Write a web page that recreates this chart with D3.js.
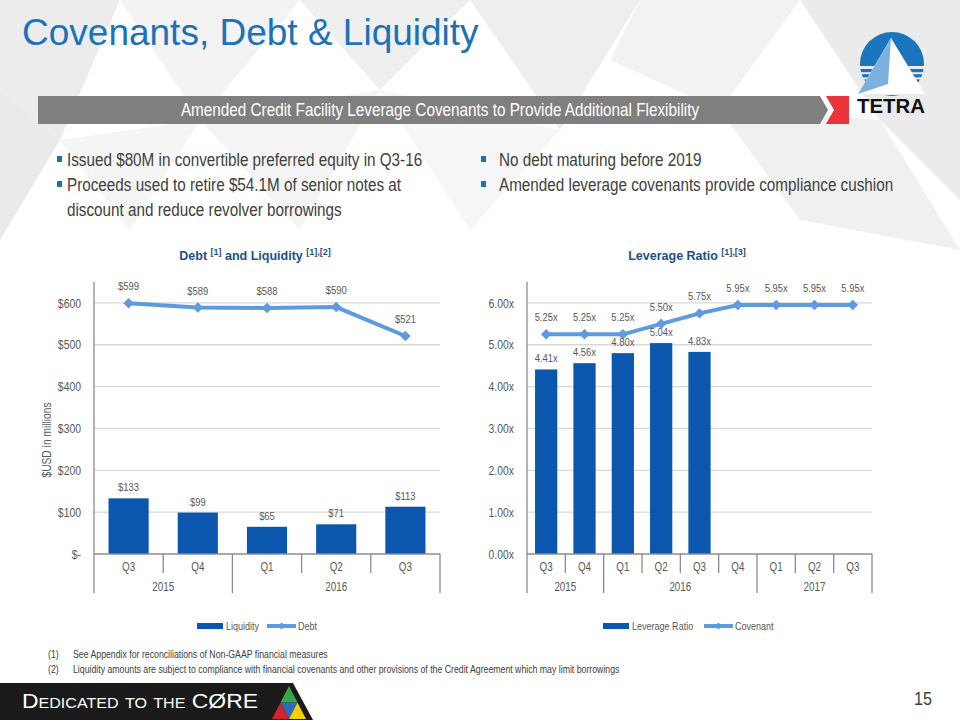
<!DOCTYPE html>
<html><head><meta charset="utf-8">
<script src="https://cdn.jsdelivr.net/npm/d3@7"></script>
<style>
html,body{margin:0;padding:0;background:#fff;}
svg{display:block;}
</style></head>
<body>
<svg id="c" width="960" height="720"></svg>
<script>
// ---------- DATA ----------
const debtQuarters = ["Q3","Q4","Q1","Q2","Q3"];
const debtYears = ["2015","2015","2016","2016","2016"];
const liquidity = [133, 99, 65, 71, 113];
const debt = [599, 589, 588, 590, 521];
const dollarTicks = [0,100,200,300,400,500,600];

const levQuarters = ["Q3","Q4","Q1","Q2","Q3","Q4","Q1","Q2","Q3"];
const levYears = ["2015","2015","2016","2016","2016","2016","2017","2017","2017"];
const leverage = [4.41, 4.56, 4.80, 5.04, 4.83];
const covenant = [5.25, 5.25, 5.25, 5.50, 5.75, 5.95, 5.95, 5.95, 5.95];
const ratioTicks = [0,1,2,3,4,5,6];

const bulletsLeft = [["Issued $80M in convertible preferred equity in Q3-16"],
  ["Proceeds used to retire $54.1M of senior notes at","discount and reduce revolver borrowings"]];
const bulletsRight = [["No debt maturing before 2019"],["Amended leverage covenants provide compliance cushion"]];
const footnotes = [["(1)","See Appendix for reconciliations of Non-GAAP financial measures"],
  ["(2)","Liquidity amounts are subject to compliance with financial covenants and other provisions of the Credit Agreement which may limit borrowings"]];

// ---------- STYLE ----------
const BAR = "#0b57ad", LINE = "#5c9be0", TXT = "#595959", GRID = "#d9d9d9", AX = "#8c8c8c";
const SANS = "'Liberation Sans',Arial,sans-serif";

const svg = d3.select("#c");

// condense a text horizontally about its anchor point
function narrow(sel, s){
  sel.each(function(){
    const t = d3.select(this);
    const x = +t.attr("x")||0, y = +t.attr("y")||0;
    t.attr("transform",`translate(${x},${y}) scale(${s},1) translate(${-x},${-y})`);
  });
}

// background low-poly
const bg = svg.append("g");
const polys = [
  [[0,0],[120,0],[60,140],[0,90]],
  [[120,0],[300,0],[200,120]],
  [[300,0],[470,0],[380,90]],
  [[60,140],[200,120],[130,230]],
  [[470,0],[640,0],[560,130]],
  [[640,0],[800,0],[720,110],[610,60]],
  [[800,0],[960,0],[960,200],[880,120]],
  [[380,90],[560,130],[470,230]],
  [[720,110],[880,120],[960,250],[800,220]],
  [[0,90],[60,140],[0,240]],
  [[200,120],[380,90],[300,230]]
];
const shades = ["#ececec","#f3f3f3","#efefef","#f5f5f5","#eeeeee","#f2f2f2","#ebebeb","#f6f6f6","#f0f0f0","#eaeaea","#f4f4f4"];
polys.forEach((p,i)=>bg.append("polygon").attr("points",p.map(d=>d.join(",")).join(" ")).attr("fill",shades[i]));

// title
svg.append("text").attr("x",22).attr("y",45).attr("font-family",SANS).attr("font-size",37)
  .attr("fill","#1b72b8").text("Covenants, Debt & Liquidity");

// banner
svg.append("polygon").attr("points","38,96 820,96 828,110 820,124 38,124").attr("fill","#7f7f7f");
svg.append("polygon").attr("points","826,96 849,96 849,124 826,124 834,110").attr("fill","#e8343a");
svg.append("text").attr("x",440).attr("y",116).attr("text-anchor","middle").attr("font-family",SANS)
  .attr("font-size",17.5).attr("fill","#fff").text("Amended Credit Facility Leverage Covenants to Provide Additional Flexibility")
  .call(narrow,0.874);

// TETRA logo
const lg = svg.append("g");
const defs = svg.append("defs");
defs.append("clipPath").attr("id","circ").append("circle").attr("cx",892).attr("cy",64).attr("r",32);
const cg = lg.append("g").attr("clip-path","url(#circ)");
cg.append("rect").attr("x",858).attr("y",30).attr("width",70).attr("height",36).attr("fill","#1b75bc");
for(let i=0;i<6;i++){
  cg.append("rect").attr("x",858).attr("y",69+i*5.2).attr("width",70).attr("height",3.2).attr("fill","#1b75bc");
}
lg.append("polygon").attr("points","891,38 858,94 925,94").attr("fill","#fff");
lg.append("polygon").attr("points","891,38 858,94 888,84").attr("fill","#7fb1e0");
svg.append("text").attr("x",857).attr("y",113).attr("font-family",SANS).attr("font-weight","bold")
  .attr("font-size",20).attr("textLength",68).attr("lengthAdjust","spacingAndGlyphs").attr("fill","#111").text("TETRA");

// bullets
function bullets(list, x, tx, y0){
  let y = y0;
  list.forEach(lines=>{
    svg.append("rect").attr("x",x).attr("y",y-10).attr("width",5).attr("height",6).attr("fill","#1b72b8");
    lines.forEach(l=>{
      svg.append("text").attr("x",tx).attr("y",y).attr("font-family",SANS).attr("font-size",17.5)
        .attr("fill","#404040").text(l).call(narrow,0.872);
      y += 25;
    });
  });
}
bullets(bulletsLeft, 57, 67, 166);
bullets(bulletsRight, 481, 499, 166);

// ---------- chart builder ----------
function chart(opt){
  const g = svg.append("g");
  const x = d3.scaleBand().domain(d3.range(opt.quarters.length)).range([opt.x0,opt.x1]).padding(0);
  const y = d3.scaleLinear().domain(opt.domain).range([554,282]);
  // grid
  g.append("g").selectAll("line").data(opt.ticks.filter(t=>t>0)).join("line")
    .attr("x1",opt.x0).attr("x2",opt.x1).attr("y1",d=>y(d)).attr("y2",d=>y(d))
    .attr("stroke",GRID).attr("stroke-width",1.3);
  // y axis
  const ya = d3.axisLeft(y).tickValues(opt.ticks).tickSize(0).tickPadding(opt.tickPad).tickFormat(opt.fmt);
  const yg = g.append("g").attr("transform",`translate(${opt.x0},0)`).call(ya);
  yg.select(".domain").remove();
  yg.selectAll("text").attr("font-family",SANS).attr("font-size",13).attr("fill",TXT).call(narrow,0.8);
  g.append("line").attr("x1",opt.x0).attr("x2",opt.x0).attr("y1",282).attr("y2",593).attr("stroke",AX).attr("stroke-width",1.3);
  // bars
  const bw = x.bandwidth()*0.58;
  g.append("g").selectAll("rect").data(opt.bars).join("rect")
    .attr("x",(d,i)=>x(i)+(x.bandwidth()-bw)/2).attr("width",bw)
    .attr("y",d=>y(d)).attr("height",d=>y(0)-y(d)).attr("fill",BAR);
  // baseline
  g.append("line").attr("x1",opt.x0).attr("x2",opt.x1).attr("y1",y(0)).attr("y2",y(0)).attr("stroke",AX).attr("stroke-width",1.3);
  // line
  const line = d3.line().x((d,i)=>x(i)+x.bandwidth()/2).y(d=>y(d));
  g.append("path").datum(opt.line).attr("d",line).attr("fill","none").attr("stroke",LINE).attr("stroke-width",4);
  g.append("g").selectAll("path").data(opt.line).join("path")
    .attr("d",d3.symbol(d3.symbolDiamond2,70))
    .attr("transform",(d,i)=>`translate(${x(i)+x.bandwidth()/2},${y(d)})`).attr("fill",LINE);
  // labels
  g.append("g").selectAll("text").data(opt.bars).join("text")
    .attr("x",(d,i)=>x(i)+x.bandwidth()/2).attr("y",d=>y(d)-7).attr("text-anchor","middle")
    .attr("font-family",SANS).attr("font-size",11.5).attr("fill",TXT).text(opt.lfmt).call(narrow,0.82);
  g.append("g").selectAll("text").data(opt.line).join("text")
    .attr("x",(d,i)=>x(i)+x.bandwidth()/2).attr("y",d=>y(d)-13).attr("text-anchor","middle")
    .attr("font-family",SANS).attr("font-size",11.5).attr("fill",TXT).text(opt.lfmt).call(narrow,0.82);
  // category axis
  const ca = g.append("g");
  opt.quarters.forEach((q,i)=>{
    ca.append("text").attr("x",x(i)+x.bandwidth()/2).attr("y",571).attr("text-anchor","middle")
      .attr("font-family",SANS).attr("font-size",12).attr("fill",TXT).text(q).call(narrow,0.82);
    if(i>0){
      const yearBreak = opt.years[i]!==opt.years[i-1];
      ca.append("line").attr("x1",x(i)).attr("x2",x(i)).attr("y1",554).attr("y2",yearBreak?593:573)
        .attr("stroke",AX).attr("stroke-width",1.3);
    }
  });
  ca.append("line").attr("x1",opt.x1).attr("x2",opt.x1).attr("y1",554).attr("y2",593).attr("stroke",AX).attr("stroke-width",1.3);
  const groups = d3.groups(opt.years.map((yv,i)=>({yv,i})), d=>d.yv);
  groups.forEach(([yv,arr])=>{
    const a = x(arr[0].i), b = x(arr[arr.length-1].i)+x.bandwidth();
    ca.append("text").attr("x",(a+b)/2).attr("y",591).attr("text-anchor","middle")
      .attr("font-family",SANS).attr("font-size",12).attr("fill",TXT).text(yv).call(narrow,0.82);
  });
  // title
  const t = svg.append("text").attr("x",opt.titleX).attr("y",260).attr("text-anchor","middle")
    .attr("font-family",SANS).attr("font-weight","bold").attr("font-size",12.5).attr("fill","#1f4e8c");
  opt.title.forEach(([s,sup])=>{
    const ts = t.append("tspan").text(s);
    if(sup){ ts.attr("font-size",9).attr("dy",-5); } else { ts.attr("dy", t.selectAll("tspan").size()>1?5:0); }
  });
  // legend
  const L = svg.append("g").attr("font-family",SANS).attr("font-size",10.5).attr("fill",TXT);
  L.append("rect").attr("x",opt.leg[0]).attr("y",623).attr("width",26).attr("height",6).attr("fill",BAR);
  L.append("text").attr("x",opt.leg[0]+29).attr("y",630).text(opt.legNames[0]).call(narrow,0.86);
  L.append("line").attr("x1",opt.leg[1]).attr("x2",opt.leg[1]+29).attr("y1",626).attr("y2",626).attr("stroke",LINE).attr("stroke-width",4);
  L.append("path").attr("d",d3.symbol(d3.symbolDiamond2,30)).attr("transform",`translate(${opt.leg[1]+14.5},626)`).attr("fill",LINE);
  L.append("text").attr("x",opt.leg[1]+31).attr("y",630).text(opt.legNames[1]).call(narrow,0.86);
}

chart({x0:94,x1:440,domain:[0,650],ticks:dollarTicks,quarters:debtQuarters,years:debtYears,
  bars:liquidity,line:debt,fmt:d=>d===0?"$-":"$"+d,lfmt:d=>"$"+d,tickPad:13,
  titleX:255,title:[["Debt ",false],["[1]",true],[" and Liquidity ",false],["[1],[2]",true]],
  leg:[197,267],legNames:["Liquidity","Debt"]});

chart({x0:527,x1:872,domain:[0,6.5],ticks:ratioTicks,quarters:levQuarters,years:levYears,
  bars:leverage,line:covenant,fmt:d=>d.toFixed(2)+"x",lfmt:d=>d.toFixed(2)+"x",tickPad:13,
  titleX:687,title:[["Leverage Ratio ",false],["[1],[3]",true]],
  leg:[603,704],legNames:["Leverage Ratio","Covenant"]});

// y-axis title
svg.append("text").attr("transform","translate(51,440) rotate(-90) scale(0.82,1)").attr("text-anchor","middle")
  .attr("font-family",SANS).attr("font-size",12.5).attr("fill",TXT).text("$USD in millions");

// footnotes
footnotes.forEach((f,i)=>{
  const yy = 658 + i*15.5;
  svg.append("text").attr("x",48).attr("y",yy).attr("font-family",SANS).attr("font-size",10).attr("fill","#404040").text(f[0]).call(narrow,0.875);
  svg.append("text").attr("x",73).attr("y",yy).attr("font-family",SANS).attr("font-size",10).attr("fill","#404040").text(f[1]).call(narrow,0.875);
});

// bottom bar
svg.append("polygon").attr("points","0,683 293,683 313,720 0,720").attr("fill","#1a1a1a");
svg.append("text").attr("x",22).attr("y",708).attr("font-family",SANS).attr("font-size",20)
  .attr("font-variant","small-caps").attr("textLength",236).attr("lengthAdjust","spacingAndGlyphs")
  .attr("fill","#fff").text("Dedicated to the CØRE");
const tri = svg.append("g");
tri.append("polygon").attr("points","289,686 280.5,702.5 297.5,702.5").attr("fill","#3aa648");
tri.append("polygon").attr("points","280.5,702.5 272,719 289,719").attr("fill","#d2232a");
tri.append("polygon").attr("points","280.5,702.5 297.5,702.5 289,719").attr("fill","#2e6db5");
tri.append("polygon").attr("points","297.5,702.5 289,719 306,719").attr("fill","#f2cf00");

svg.append("text").attr("x",923).attr("y",705).attr("text-anchor","middle").attr("font-family",SANS)
  .attr("font-size",19).attr("fill","#404040").text("15").call(narrow,0.85);
</script>
</body></html>
